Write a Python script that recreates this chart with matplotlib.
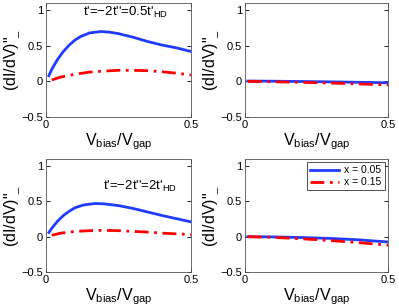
import matplotlib
matplotlib.use("Agg")
import matplotlib.pyplot as plt

plt.rcParams["font.family"] = ["Liberation Sans", "DejaVu Sans"]
plt.rcParams["mathtext.default"] = "regular"

# top-left: t'=-2t''=0.5t'_HD
x_tl_blue = [0.01, 0.02, 0.04, 0.06, 0.08, 0.10, 0.12, 0.15, 0.19, 0.22, 0.25, 0.30, 0.35, 0.40, 0.45, 0.50]
y_tl_blue = [0.08, 0.17, 0.31, 0.42, 0.51, 0.58, 0.63, 0.68, 0.70, 0.69, 0.67, 0.62, 0.56, 0.51, 0.47, 0.42]
x_tl_red = [0.02, 0.05, 0.10, 0.15, 0.20, 0.25, 0.30, 0.35, 0.40, 0.45, 0.50]
y_tl_red = [0.02, 0.06, 0.10, 0.13, 0.145, 0.155, 0.155, 0.15, 0.135, 0.115, 0.09]

# top-right
x_tr = [0.01, 0.10, 0.20, 0.30, 0.40, 0.50]
y_tr_blue = [0.005, 0.002, -0.002, -0.007, -0.013, -0.02]
y_tr_red = [0.0, -0.006, -0.014, -0.024, -0.036, -0.05]

# bottom-left: t'=-2t''=2t'_HD
x_bl_blue = [0.01, 0.02, 0.04, 0.06, 0.08, 0.10, 0.13, 0.17, 0.20, 0.25, 0.30, 0.35, 0.40, 0.45, 0.50]
y_bl_blue = [0.06, 0.12, 0.22, 0.30, 0.36, 0.41, 0.45, 0.47, 0.465, 0.44, 0.40, 0.35, 0.30, 0.255, 0.21]
x_bl_red = [0.02, 0.05, 0.10, 0.15, 0.20, 0.25, 0.30, 0.35, 0.40, 0.45, 0.50]
y_bl_red = [0.02, 0.05, 0.075, 0.085, 0.09, 0.085, 0.075, 0.065, 0.05, 0.04, 0.03]

# bottom-right
x_br = [0.01, 0.10, 0.20, 0.30, 0.40, 0.50]
y_br_blue = [0.0, -0.003, -0.012, -0.025, -0.045, -0.075]
y_br_red = [0.0, -0.01, -0.03, -0.055, -0.085, -0.12]

labels = ["x = 0.05", "x = 0.15"]
xticks = [0, 0.5]
xticklabels = ["0", "0.5"]
yticks = [-0.5, 0, 0.5, 1]
yticklabels = ["\u22120.5", "0", "0.5", "1"]

BLUE = "#1f3cff"
RED = "#ff0000"

W, H = 399, 308
fig = plt.figure(figsize=(W / 100, H / 100), dpi=100)


def make_ax(l, t, r, b):
    return fig.add_axes([l / W, 1 - b / H, (r - l) / W, (b - t) / H])


axes = [make_ax(46, 3, 191, 117), make_ax(245, 3, 388, 117),
        make_ax(46, 159, 191, 272), make_ax(245, 159, 388, 272)]

data = [(x_tl_blue, y_tl_blue, x_tl_red, y_tl_red),
        (x_tr, y_tr_blue, x_tr, y_tr_red),
        (x_bl_blue, y_bl_blue, x_bl_red, y_bl_red),
        (x_br, y_br_blue, x_br, y_br_red)]

for ax, (xb, yb, xr, yr) in zip(axes, data):
    ax.plot(xb, yb, color=BLUE, lw=2, label=labels[0])
    ax.plot(xr, yr, color=RED, lw=2, ls=(0, (5, 2, 1, 2)), label=labels[1])
    ax.set_xlim(0, 0.5)
    ax.set_ylim(-0.5, 1.1)
    ax.set_xticks(xticks)
    ax.set_xticklabels(xticklabels)
    ax.set_yticks(yticks)
    ax.set_yticklabels(yticklabels)
    ax.tick_params(direction="in", length=3, width=0.6, labelsize=8,
                   top=True, right=True, pad=2)
    for s in ax.spines.values():
        s.set_linewidth(0.6)
        s.set_color("#555555")
    ax.set_xlabel(r"V$_{bias}$/V$_{gap}$", fontsize=11.5, labelpad=1)
    ax.set_ylabel('(dI/dV)"$_{\\_}$', fontsize=11.5)
    ax.yaxis.set_label_coords(-0.165, 0.5)

axes[0].text(0.255, 0.92, "t'=\u22122t''=0.5t'$_{HD}$", fontsize=9.5,
             transform=axes[0].transAxes, va="center")
axes[2].text(0.39, 0.76, "t'=\u22122t''=2t'$_{HD}$", fontsize=9.5,
             transform=axes[2].transAxes, va="center")

leg = axes[3].legend(loc="upper right", fontsize=7.5, frameon=True, fancybox=False,
                     borderpad=0.3, handlelength=2.8, labelspacing=0.2,
                     borderaxespad=0.3, handletextpad=0.5)
leg.get_frame().set_edgecolor("black")
leg.get_frame().set_linewidth(0.6)

fig.savefig("out.png", dpi=100)
